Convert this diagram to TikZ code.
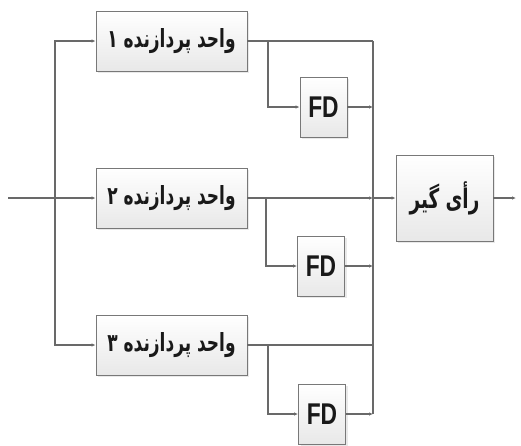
\documentclass[tikz,border=0pt]{standalone}
\usepackage{fontspec}
\usepackage{tikz}
\usetikzlibrary{arrows.meta,shadows,calc}
\TeXXeTstate=1
\newfontfamily\farsi[Script=Arabic,FakeStretch=0.68]{DejaVu Sans}
\newfontfamily\narrow[FakeStretch=0.76]{Liberation Sans}
\definecolor{wire}{RGB}{105,105,105}
\definecolor{frame}{RGB}{120,120,120}

\begin{document}
\begin{tikzpicture}[x=1pt,y=-1pt,
  block/.style={draw=frame,line width=0.9pt,top color=white,bottom color=gray!18,
                drop shadow={shadow xshift=2pt,shadow yshift=-2pt,fill=gray!25,opacity=0.7},
                inner sep=0pt,align=center,text=black!90},
  unit/.style={block,minimum width=151pt,minimum height=60pt,font=\farsi\bfseries\fontsize{25}{28}\selectfont},
  fd/.style={block,minimum width=47pt,minimum height=60pt,font=\narrow\bfseries\fontsize{30}{32}\selectfont},
  vote/.style={block,minimum width=97pt,minimum height=86pt,font=\farsi\bfseries\fontsize{27}{30}\selectfont},
  line/.style={draw=wire,line width=1.3pt},
  arr/.style={line,-{Latex[length=4pt,width=3.5pt]}},
]
\useasboundingbox (0,0) rectangle (521,445);

%% processing units
\node[unit] (pu1) at (171.5,41)  {\beginR واحد پردازنده ۱\endR};
\node[unit] (pu2) at (171.5,198) {\beginR واحد پردازنده ۲\endR};
\node[unit] (pu3) at (171.5,345) {\beginR واحد پردازنده ۳\endR};

%% fault detectors
\node[fd] (fd1) at (323.5,107) {FD};
\node[fd] (fd2) at (321,266)   {FD};
\node[fd] (fd3) at (322,414)   {FD};

%% voter
\node[vote] (voter) at (444.5,198) {\beginR رأی گیر\endR};

%% taps
\coordinate (in)    at (8,198);
\coordinate (split) at (55,198);
\coordinate (bustop) at (373,41);
\coordinate (busbot) at (373,414);
\coordinate (t1) at (268,41);
\coordinate (t2) at (266,198);
\coordinate (t3) at (268,345);
\coordinate (out) at (516,198);

%% input fan-out
\draw[arr] (in) -- (pu2.west);
\draw[arr] (split) |- (pu1.west);
\draw[arr] (split) |- (pu3.west);

%% unit outputs to the bus
\draw[line,line width=2pt] (pu1.east) -- (bustop);
\draw[line] (bustop) -- (busbot);
\draw[arr,line width=1.8pt] (pu2.east) -- (pu2.east -| bustop);
\draw[line,line width=1.6pt] (pu3.east) -- (pu3.east -| bustop);

%% branches to the fault detectors
\draw[arr] (t1) |- (fd1.west);
\draw[arr] (t2) |- (fd2.west);
\draw[arr] (t3) |- (fd3.west);
\draw[arr] (fd1.east) -- (fd1.east -| bustop);
\draw[arr] (fd2.east) -- (fd2.east -| bustop);
\draw[arr] (fd3.east) -- (fd3.east -| bustop);

%% voter in and out
\draw[arr,line width=1.8pt] (pu2.east -| bustop) -- (voter.west);
\draw[arr] (voter.east) -- (out);
\end{tikzpicture}
\end{document}
